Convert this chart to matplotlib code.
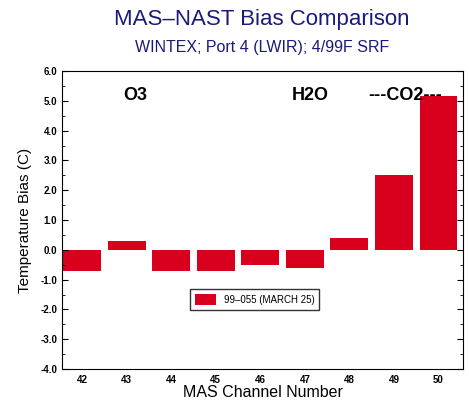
import numpy as np
import matplotlib
matplotlib.use("Agg")
import matplotlib.pyplot as plt
from matplotlib.ticker import MultipleLocator

plt.rcParams['font.family'] = ['Liberation Sans', 'DejaVu Sans']

channels = [42, 43, 44, 45, 46, 47, 48, 49, 50]
bias = [-0.7, 0.3, -0.7, -0.7, -0.5, -0.6, 0.4, 2.5, 5.15]
series_label = "99\u2013055 (MARCH 25)"
yticks = np.arange(-4.0, 6.01, 1.0)

fig = plt.figure(figsize=(4.69, 4.0), dpi=100)
ax = fig.add_axes([62 / 469, 31 / 400, 401 / 469, 298 / 400])

ax.bar(channels, bias, width=0.85, color="#d8001c", label=series_label)

ax.set_xlim(41.55, 50.55)
ax.set_ylim(-4.0, 6.0)
ax.set_xticks(channels)
ax.set_xticklabels([str(c) for c in channels], fontsize=7, fontweight="bold")
ax.set_yticks(yticks)
ax.set_yticklabels(["%.1f" % v for v in yticks], fontsize=7, fontweight="bold")
ax.yaxis.set_minor_locator(MultipleLocator(0.5))
ax.tick_params(axis="y", which="both", direction="in", right=True)
ax.tick_params(axis="y", which="major", length=4)
ax.tick_params(axis="y", which="minor", length=2)
ax.tick_params(axis="x", length=0, pad=4)

ax.set_ylabel("Temperature Bias (C)", fontsize=11, labelpad=6)
ax.set_xlabel("MAS Channel Number", fontsize=11.5, labelpad=0)

ax.text(43.2, 5.17, "O3", fontsize=13, fontweight="bold", ha="center", va="center")
ax.text(47.13, 5.17, "H2O", fontsize=13, fontweight="bold", ha="center", va="center")
ax.text(49.25, 5.17, "---CO2---", fontsize=13, fontweight="bold",
        ha="center", va="center")

leg = ax.legend(loc="center", bbox_to_anchor=(0.48, 0.232), fontsize=7,
                frameon=True, fancybox=False, handlelength=2.2, handleheight=1.4,
                borderpad=0.5)
leg.get_frame().set_edgecolor("black")
leg.get_frame().set_linewidth(1.0)

fig.text(0.558, 0.95, "MAS\u2013NAST Bias Comparison", fontsize=16, color="#1a1a7a",
         ha="center", va="center")
fig.text(0.558, 0.882, "WINTEX; Port 4 (LWIR); 4/99F SRF", fontsize=11.5, color="#1a1a7a",
         ha="center", va="center")

fig.savefig("out.png", dpi=100)
